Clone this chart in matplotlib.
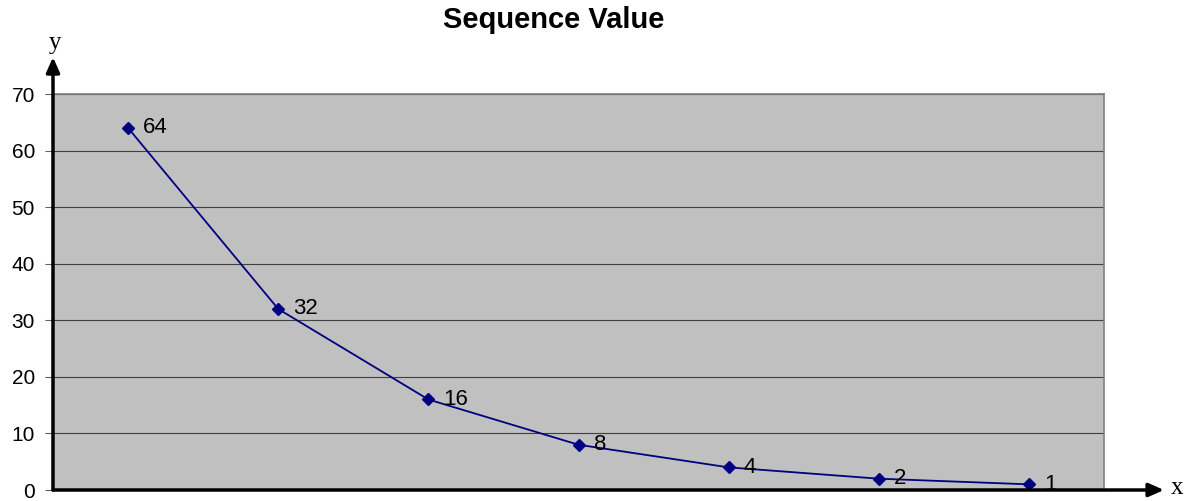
import matplotlib.pyplot as plt
import matplotlib
matplotlib.rcParams["font.family"] = ["Liberation Sans", "DejaVu Sans"]

# data
positions = [1, 2, 3, 4, 5, 6, 7]
values = [64, 32, 16, 8, 4, 2, 1]
y_ticks = [0, 10, 20, 30, 40, 50, 60, 70]

fig = plt.figure(figsize=(11.92, 5.01), dpi=100)
ax = fig.add_axes([53 / 1192, 11 / 501, 1051 / 1192, 396 / 501])
ax.set_facecolor("#C0C0C0")

ax.plot(positions, values, color="#000080", linewidth=1.3, marker="D",
        markersize=6.5, markerfacecolor="#000080", markeredgecolor="#000080", zorder=3)
for xp, v in zip(positions, values):
    ax.annotate(str(v), (xp, v), xytext=(11, 0), textcoords="offset points",
                va="center", ha="left", fontsize=16, zorder=4)

ax.set_xlim(0.5, 7.5)
ax.set_ylim(0, 70)
ax.set_yticks(y_ticks)
ax.set_xticks([])
ax.tick_params(axis="y", direction="out", length=6, color="#606060",
               labelsize=15, pad=7)
ax.grid(True, axis="y", color="#404040", linewidth=0.8)
ax.set_axisbelow(True)

for side in ["top", "right"]:
    ax.spines[side].set_color("#808080")
    ax.spines[side].set_linewidth(1.2)
ax.spines["left"].set_visible(False)
ax.spines["bottom"].set_visible(False)

# axis arrows
arrow = dict(arrowstyle="-|>,head_length=0.9,head_width=0.4", color="black",
             linewidth=2.5, shrinkA=0, shrinkB=0)
ax.annotate("", xy=(0, 1.093), xytext=(0, 0), xycoords="axes fraction",
            arrowprops=arrow, annotation_clip=False)
ax.annotate("", xy=(1.057, 0), xytext=(0, 0), xycoords="axes fraction",
            arrowprops=arrow, annotation_clip=False)

fig.text(55 / 1192, 1 - 43 / 501, "y", family="Liberation Serif", fontsize=18,
         ha="center", va="center")
fig.text(1177 / 1192, 1 - 488 / 501, "x", family="Liberation Serif", fontsize=18,
         ha="center", va="center")

fig.text(554 / 1192, 1 - 20 / 501, "Sequence Value", fontsize=21,
         fontweight="bold", ha="center", va="center")

plt.savefig("out.png", dpi=100)
